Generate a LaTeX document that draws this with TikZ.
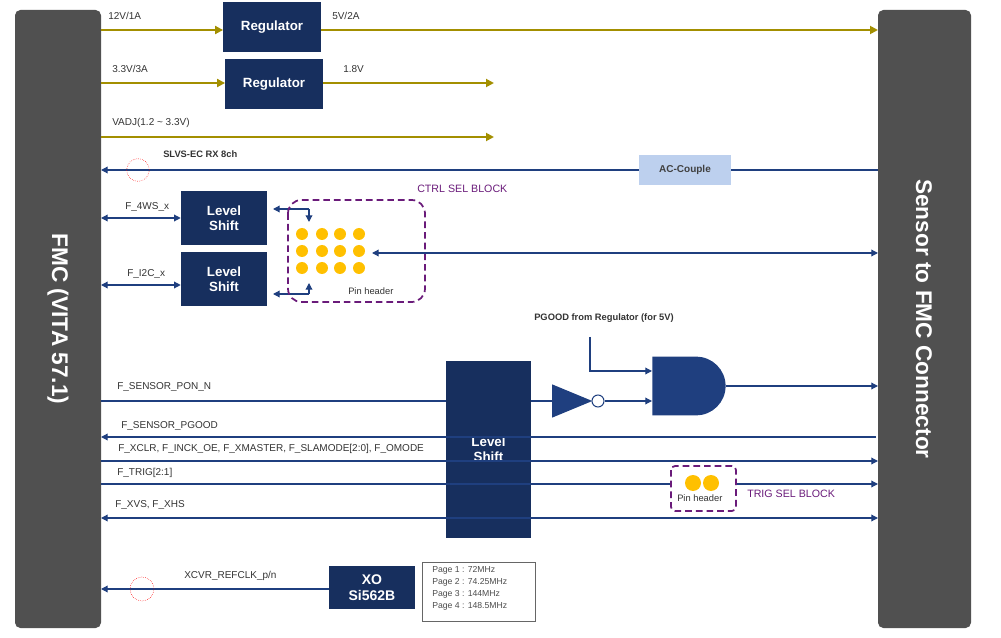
\documentclass[tikz,border=0pt]{standalone}
\usepackage{fontspec}
\setmainfont{Liberation Sans}
\usetikzlibrary{arrows.meta,shapes.gates.logic.US,shapes.geometric}
\definecolor{bar}{HTML}{505050}
\definecolor{navy}{HTML}{172F5E}
\definecolor{wire}{HTML}{1F3F7F}
\definecolor{gold}{HTML}{A38F00}
\definecolor{acb}{HTML}{BDD0EE}
\definecolor{pur}{HTML}{6A1B7A}
\definecolor{dot}{HTML}{FFC000}
\definecolor{gatec}{HTML}{1F3F7F}
\begin{document}
\begin{tikzpicture}[x=0.75pt,y=-0.75pt,
  barS/.style={fill=bar,rounded corners=4pt,draw=none},
  blk/.style={fill=navy,draw=none,text=white,font=\bfseries\fontsize{10}{11}\selectfont,align=center,inner sep=0pt},
  pw/.style={draw=gold,line width=1.4pt,-{Triangle[length=6pt,width=6pt]}},
  sg/.style={draw=wire,line width=0.9pt},
  ar/.style={-{Triangle[length=5pt,width=5pt]}},
  br/.style={{Triangle[length=5pt,width=5pt]}-{Triangle[length=5pt,width=5pt]}},
  lab/.style={font=\fontsize{7.5}{8}\selectfont,text=black!80,anchor=base west,inner sep=0pt},
  blab/.style={font=\bfseries\fontsize{7}{8}\selectfont,text=black!80,anchor=base west,inner sep=0pt},
  plab/.style={font=\fontsize{8}{9}\selectfont,text=pur,anchor=base west,inner sep=0pt},
  pd/.style={circle,fill=dot,inner sep=0pt,minimum size=9pt},
  rc/.style={circle,draw=red,densely dotted,inner sep=0pt,minimum size=17pt}]
\useasboundingbox (0,0) rectangle (1001,638);
% bars
\fill[barS] (15,10) rectangle (101,628);
\fill[barS] (878,10) rectangle (971,628);
\node[rotate=-90,text=white,font=\bfseries\fontsize{17}{20}\selectfont] (fmc) at (58,319) {FMC (VITA 57.1)};
\node[rotate=-90,text=white,font=\bfseries\fontsize{17}{20}\selectfont] (sen) at (924,319) {Sensor to FMC Connector};
\coordinate (L30) at (101,30); \coordinate (R30) at (878,30);
\coordinate (L83) at (101,83); \coordinate (E83) at (494,83);
\coordinate (L137) at (101,137); \coordinate (E137) at (494,137);
% regulators
\node[blk,minimum width=73pt,minimum height=37.5pt] (reg1) at (272,27) {Regulator};
\node[blk,minimum width=73pt,minimum height=37pt] (reg2) at (274,84) {Regulator};
\draw[pw] (L30) -- (L30-|reg1.west);
\draw[pw] (reg1.east|-R30) -- (R30);
\draw[pw] (L83) -- (L83-|reg2.west);
\draw[pw] (reg2.east|-E83) -- (E83);
\draw[pw] (L137) -- (E137);
\node[lab] (t1) at (108,20) {12V/1A};
\node[lab] (t2) at (332,20) {5V/2A};
\node[lab] (t3) at (112,73) {3.3V/3A};
\node[lab] (t4) at (343,73) {1.8V};
\node[lab] (t5) at (112,126) {VADJ(1.2 \textasciitilde{} 3.3V)};
% SLVS
\coordinate (L170) at (101,170); \coordinate (R170) at (878,170);
\draw[sg,ar] (R170) -- (L170);
\node[rc] (c1) at (138,170) {};
\node[blab] (t6) at (163,158) {SLVS-EC RX 8ch};
\node[fill=acb,minimum width=69pt,minimum height=22.5pt,inner sep=0pt,font=\bfseries\fontsize{7.5}{8}\selectfont,text=black!75] (ac) at (685,170) {AC-Couple};
% level shifts small
\node[blk,minimum width=64.5pt,minimum height=40.5pt] (ls1) at (224,218) {Level\\Shift};
\node[blk,minimum width=64.5pt,minimum height=40.5pt] (ls2) at (224,279) {Level\\Shift};
\coordinate (L218) at (101,218); \coordinate (L285) at (101,285);
\draw[sg,br] (L218) -- (L218-|ls1.west);
\draw[sg,br] (L285) -- (L285-|ls2.west);
\node[lab] (t7) at (125,210) {F\_4WS\_x};
\node[lab] (t8) at (127,277) {F\_I2C\_x};
\coordinate (p1) at (309,209); \coordinate (p1b) at (309,222);
\coordinate (p2) at (309,294); \coordinate (p2b) at (309,283);
\draw[sg,ar] (p1) -- (273,209);
\draw[sg,ar] (p1) -- (p1b);
\draw[sg,ar] (p2) -- (273,294);
\draw[sg,ar] (p2) -- (p2b);
\draw[pur,line width=1.3pt,dash pattern=on 5pt off 3pt,rounded corners=10pt] (288,200) rectangle (425,302);
\node[plab] (t9) at (417,193) {CTRL SEL BLOCK};
\foreach \i/\x in {1/302,2/322,3/340,4/359}{\foreach \j/\y in {1/234,2/251,3/268}{\node[pd] (d\i\j) at (\x,\y) {};}}
\node[blab,font=\fontsize{7}{8}\selectfont] (t10) at (348,295) {Pin header};
\coordinate (p3) at (372,253); \coordinate (R253) at (878,253);
\draw[sg,br] (p3) -- (R253);
% big level shift
\node[blk,minimum width=64pt,minimum height=133pt] (ls3) at (488.5,449.5) {Level\\Shift};
% PGOOD and gate
\node[blab] (t11) at (534,321) {PGOOD from Regulator (for 5V)};
\node[and gate US,draw=none,fill=gatec,minimum width=51pt,minimum height=44pt,inner sep=0pt,anchor=west] (and) at (652,386) {};
\node[isosceles triangle,fill=gatec,draw=none,inner sep=0pt,minimum width=25pt,minimum height=26pt,anchor=apex] (inv) at (593,401) {};
\node[circle,draw=gatec,fill=white,inner sep=0pt,minimum size=9pt,line width=0.8pt] (bub) at (598,401) {};
\coordinate (q0) at (590,337); \coordinate (q1) at (590,371);
\draw[sg,ar] (q0) -- (q1) -- (652,371);
\draw[sg,ar] (bub.east) -- (652,401);
\coordinate (R386) at (878,386);
\draw[sg,ar] (and.east|-R386) -- (R386);
\coordinate (L401) at (101,401);
\draw[sg] (L401) -- (L401-|ls3.west);
\draw[sg] (ls3.east|-L401) -- (inv.west|-L401);
\node[lab] (t12) at (117,390) {F\_SENSOR\_PON\_N};
% other signals
\coordinate (L437) at (101,437); \coordinate (R437) at (876,437);
\draw[sg,ar] (R437) -- (L437);
\node[lab] (t13) at (121,428) {F\_SENSOR\_PGOOD};
\coordinate (L461) at (101,461); \coordinate (R461) at (878,461);
\draw[sg,ar] (L461) -- (R461);
\node[lab] (t14) at (118,451) {F\_XCLR, F\_INCK\_OE, F\_XMASTER, F\_SLAMODE[2:0], F\_OMODE};
\coordinate (L484) at (101,484); \coordinate (R484) at (878,484);
\draw[sg,ar] (L484) -- (R484);
\node[lab] (t15) at (117,475) {F\_TRIG[2:1]};
\coordinate (L518) at (101,518); \coordinate (R518) at (878,518);
\draw[sg,br] (L518) -- (R518);
\node[lab] (t16) at (115,508) {F\_XVS, F\_XHS};
\fill[white] (672,467) rectangle (735,510);
\draw[pur,line width=1.3pt,dash pattern=on 5pt off 3pt,rounded corners=3pt] (671,466) rectangle (736,511);
\node[pd,minimum size=12pt] (td1) at (693,483) {};
\node[pd,minimum size=12pt] (td2) at (711,483) {};
\node[blab,font=\fontsize{7}{8}\selectfont] (t17) at (677,501) {Pin header};
\node[plab] (t18) at (747,497) {TRIG SEL BLOCK};
% XO
\node[blk,minimum width=64.5pt,minimum height=32pt,font=\bfseries\fontsize{10.5}{12}\selectfont] (xo) at (372,587.5) {XO\\Si562B};
\coordinate (L589) at (101,589);
\draw[sg,ar] (xo.west|-L589) -- (L589);
\node[rc,minimum size=18pt] (c2) at (142,589) {};
\node[lab] (t19) at (184,578) {XCVR\_REFCLK\_p/n};
\node[draw=black!60,minimum width=84.5pt,minimum height=44pt,inner sep=0pt] (pg) at (478.5,591.5) {};
\node[font=\fontsize{6.5}{9}\selectfont,text=black!70,align=left,anchor=north west,inner sep=0pt] (pgt) at (432,566) {Page 1 : 72MHz\\Page 2 : 74.25MHz\\Page 3 : 144MHz\\Page 4 : 148.5MHz};
\end{tikzpicture}
\end{document}
